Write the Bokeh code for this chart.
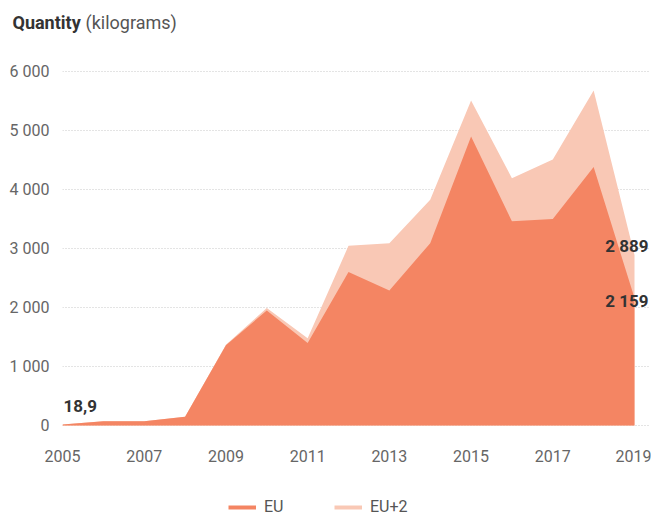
from bokeh.plotting import figure
from bokeh.layouts import column
from bokeh.models import (ColumnDataSource, FixedTicker, Legend, LegendItem, Range1d, Title)
from bokeh.core.properties import value
from bokeh.embed import file_html
from bokeh.resources import INLINE

# ---- data ----
years = [2005, 2006, 2007, 2008, 2009, 2010, 2011, 2012, 2013, 2014, 2015, 2016, 2017, 2018, 2019]
eu = [18.9, 70, 70, 150, 1360, 1950, 1400, 2600, 2290, 3090, 4900, 3460, 3500, 4380, 2159]
eu_plus2 = [18.9, 70, 70, 150, 1370, 1990, 1480, 3045, 3090, 3825, 5510, 4190, 4510, 5680, 2889]
series_names = ["EU", "EU+2"]
y_ticks = [0, 1000, 2000, 3000, 4000, 5000, 6000]
y_tick_labels = ["0", "1 000", "2 000", "3 000", "4 000", "5 000", "6 000"]
x_ticks = [2005, 2007, 2009, 2011, 2013, 2015, 2017, 2019]
x_tick_labels = ["2005", "2007", "2009", "2011", "2013", "2015", "2017", "2019"]
first_label = "18,9"
last_labels = ["2 159", "2 889"]
title_bold = "Quantity"
title_rest = "(kilograms)"

C_EU = "#f48563"
C_EU2 = "#f9c8b5"
FONT = "Roboto"

src = ColumnDataSource(dict(x=years, eu=eu, eu2=eu_plus2, zero=[0] * len(years)))

p = figure(width=651, height=486, output_backend="svg", toolbar_location=None,
           x_range=Range1d(2005, 2019.367), y_range=Range1d(-34, 6136),
           min_border_left=62, min_border_right=2, min_border_top=63, min_border_bottom=59)
p.outline_line_color = None
p.background_fill_color = "white"
p.border_fill_color = "white"

p.varea(x="x", y1="zero", y2="eu2", source=src, fill_color=C_EU2)
p.varea(x="x", y1="zero", y2="eu", source=src, fill_color=C_EU)

p.xaxis.ticker = FixedTicker(ticks=x_ticks)
p.xaxis.major_label_overrides = dict(zip(x_ticks, x_tick_labels))
p.yaxis.ticker = FixedTicker(ticks=y_ticks)
p.yaxis.major_label_overrides = dict(zip(y_ticks, y_tick_labels))
for ax in (p.xaxis[0], p.yaxis[0]):
    ax.axis_line_color = None
    ax.major_tick_line_color = None
    ax.minor_tick_line_color = None
    ax.major_label_text_font = FONT
    ax.major_label_text_font_size = "16px"
    ax.major_label_text_color = "#666666"
p.xaxis.major_label_standoff = 16
p.yaxis.major_label_standoff = 7

p.xgrid.grid_line_color = None
p.ygrid.grid_line_color = "#c8c8c8"
p.ygrid.grid_line_dash = "1 2"
p.ygrid.grid_line_width = 1

# value labels
lbl = dict(text_font=value(FONT), text_font_size="17px", text_font_style="bold",
           text_color="#333333", text_baseline="middle")
p.text(x=[years[0]], y=[eu[0]], text=[first_label], text_align="left",
       x_offset=1, y_offset=-18, **lbl)
p.text(x=[years[-1]], y=[eu[-1]], text=[last_labels[0]], text_align="right",
       x_offset=14, y_offset=3, **lbl)
p.text(x=[years[-1]], y=[eu_plus2[-1]], text=[last_labels[1]], text_align="right",
       x_offset=14, y_offset=-9, **lbl)

# title: spacer panel + two zero-height title panels drawn on one line
p.add_layout(Title(text=" ", standoff=21, text_font=FONT, text_font_size="16px"), "above")
p.add_layout(Title(text=title_bold, align="left", offset=-50, standoff=-23, text_font=FONT,
                   text_font_size="18px", text_font_style="bold", text_color="#333333"), "above")
p.add_layout(Title(text=title_rest, align="left", offset=23, standoff=-23, text_font=FONT,
                   text_font_size="18px", text_font_style="normal", text_color="#555555"), "above")

# ---- legend strip ----
lf = figure(width=651, height=30, output_backend="svg", toolbar_location=None,
            x_range=Range1d(0, 1), y_range=Range1d(0, 1),
            x_axis_location=None, y_axis_location=None,
            min_border_left=62, min_border_right=2, min_border_top=0, min_border_bottom=0)
lf.outline_line_color = None
lf.border_fill_color = "white"
lf.background_fill_color = "white"
lf.xgrid.grid_line_color = None
lf.ygrid.grid_line_color = None
# proxies (series data lies outside this strip's ranges, so only the legend swatches show)
r1 = lf.line(x="x", y="eu", source=src, line_color=C_EU, line_width=4)
r2 = lf.line(x="x", y="eu2", source=src, line_color=C_EU2, line_width=4)
legend = Legend(items=[LegendItem(label=series_names[0], renderers=[r1]),
                       LegendItem(label=series_names[1], renderers=[r2])],
                location=(166, 0), orientation="horizontal",
                border_line_color=None, background_fill_alpha=0, padding=0, margin=0,
                spacing=50, glyph_width=28, glyph_height=16, label_standoff=8,
                label_text_font=FONT, label_text_font_size="16px",
                label_text_color="#555555", label_height=16)
lf.add_layout(legend, "center")

layout = column(p, lf, spacing=0)
open("out.html", "w").write(file_html(layout, INLINE))
